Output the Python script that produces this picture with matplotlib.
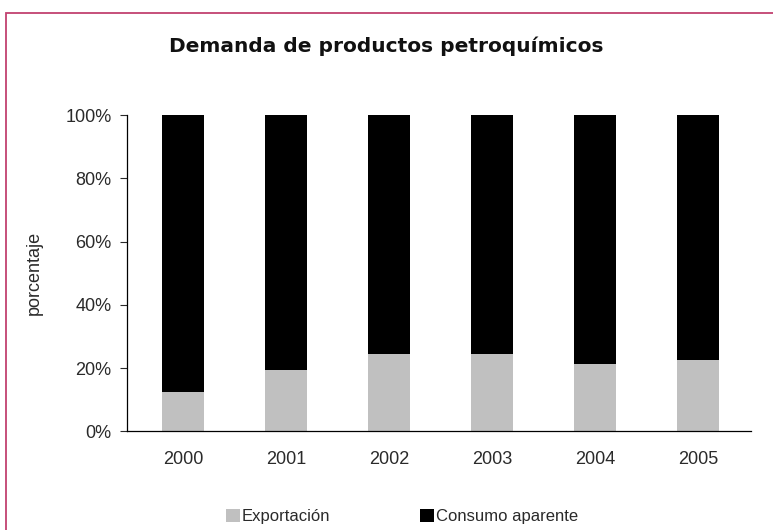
import matplotlib.pyplot as plt
from matplotlib.patches import Rectangle
from matplotlib.ticker import PercentFormatter

# data (percent of total demand)
years = ["2000", "2001", "2002", "2003", "2004", "2005"]
exportacion = [12.5, 19.4, 24.5, 24.5, 21.3, 22.6]
consumo = [87.5, 80.6, 75.5, 75.5, 78.7, 77.4]

plt.rcParams['font.family'] = ['Liberation Sans', 'DejaVu Sans']

fig = plt.figure(figsize=(7.73, 5.30), dpi=100)
fig.set_facecolor("white")
ax = fig.add_axes([0.164, 0.186, 0.807, 0.597])

x = range(len(years))
ax.bar(x, exportacion, width=0.41, color="#c0c0c0", label="Exportación")
ax.bar(x, consumo, width=0.41, bottom=exportacion, color="black", label="Consumo aparente")

ax.set_xlim(-0.55, 5.51)
ax.set_ylim(0, 100)
ax.set_yticks([0, 20, 40, 60, 80, 100])
ax.yaxis.set_major_formatter(PercentFormatter(decimals=0))
ax.set_xticks(list(x))
ax.set_xticklabels(years)
ax.tick_params(axis='x', length=0, pad=14, labelsize=13, colors="#2a2a2a")
ax.tick_params(axis='y', length=5, width=0.8, pad=6, labelsize=13, colors="#2a2a2a")
for side in ["top", "right"]:
	ax.spines[side].set_visible(False)
ax.spines["left"].set_linewidth(0.9)
ax.spines["bottom"].set_linewidth(0.9)
ax.set_ylabel("porcentaje", fontsize=13, color="#2a2a2a", labelpad=16)

fig.text(0.5, 0.912, "Demanda de productos petroquímicos", ha="center", va="center",
	fontsize=14.5, fontweight="bold", family=["DejaVu Sans"], color="#111111")

fig.legend(loc="center", bbox_to_anchor=(0.52, 0.026), ncol=2, frameon=False,
	handlelength=0.84, handleheight=0.84, handletextpad=0.12, columnspacing=5.4,
	fontsize=12, borderaxespad=0, labelcolor="#2a2a2a")

# pink frame around the chart, running past the right and bottom edges
fig.patches.append(Rectangle((6/773, -0.05), 1.2, 1 - 13/530 + 0.05,
	transform=fig.transFigure, fill=False, edgecolor="#c2416f", linewidth=1.3))

plt.savefig("out.png", dpi=100)
